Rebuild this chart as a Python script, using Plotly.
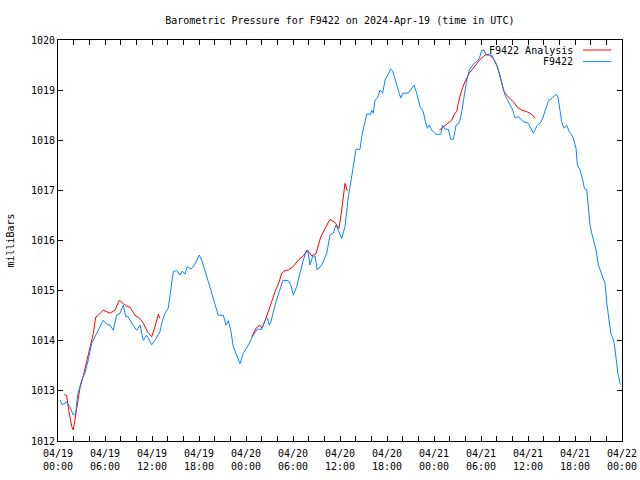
import pandas as pd
import plotly.graph_objects as go

# hours since 2024-04-19 00:00 UTC and pressure (mbar)
station_hours = [0.26, 0.55, 1.11, 1.53, 1.95, 2.26, 2.51, 3.03, 3.45, 3.87, 4.30, 4.72, 5.14, 5.78, 6.22, 6.64,
                 7.06, 7.49, 7.92, 8.34, 8.64, 8.97, 9.41, 10.05, 10.47, 10.89, 11.32, 11.96, 12.38, 13.02, 13.24,
                 13.66, 14.08, 14.39, 14.72, 15.15, 15.57, 15.87, 16.21, 16.51, 16.98, 17.49, 18.04, 18.35, 18.77,
                 19.19, 19.62, 20.04, 20.46, 21.10, 21.45, 21.74, 22.05, 22.38, 22.81, 23.24, 23.66, 24.29, 24.93,
                 25.44, 26.01, 26.43, 26.72, 26.98, 27.19, 27.70, 28.25, 28.69, 29.40, 29.71, 30.04, 30.47, 30.89,
                 31.32, 31.75, 31.95, 32.17, 32.52, 32.81, 33.10, 33.66, 34.30, 34.72, 35.15, 35.49, 35.78, 36.22,
                 36.64, 37.06, 37.49, 37.79, 38.04, 38.55, 38.77, 39.19, 39.41, 39.92, 40.05, 40.25, 40.47, 40.76,
                 41.11, 41.45, 41.75, 42.09, 42.47, 42.73, 43.15, 43.45, 43.75, 44.01, 44.72, 45.03, 45.45, 45.79,
                 46.22, 46.64, 46.85, 47.15, 47.40, 47.71, 48.26, 48.86, 49.11, 49.41, 49.83, 50.13, 50.47, 50.68,
                 50.81, 51.10, 51.32, 51.54, 51.75, 52.18, 52.51, 52.82, 53.02, 53.46, 53.79, 54.10, 54.39, 54.64,
                 55.37, 55.79, 56.09, 56.30, 56.64, 57.07, 57.36, 57.71, 58.05, 58.35, 58.64, 58.98, 59.41, 60.04,
                 60.35, 60.68, 61.19, 61.53, 61.88, 62.17, 62.59, 63.07, 63.58, 63.83, 64.09, 64.30, 64.60, 64.94,
                 65.27, 65.53, 65.79, 66.13, 66.30, 66.64, 66.99, 67.19, 67.50, 67.71, 67.92, 68.14, 68.43, 68.69,
                 68.98, 69.29, 69.55, 69.84, 70.06, 70.26, 70.57, 70.83, 71.00, 71.25, 71.47, 71.76, 71.85]
station_mbar = [1012.82, 1012.72, 1012.78, 1012.68, 1012.52, 1012.55, 1012.92, 1013.22, 1013.36, 1013.62, 1013.95,
                1014.07, 1014.21, 1014.41, 1014.33, 1014.31, 1014.21, 1014.51, 1014.55, 1014.71, 1014.48, 1014.48,
                1014.35, 1014.21, 1014.31, 1014.01, 1014.11, 1013.92, 1014.01, 1014.18, 1014.35, 1014.55, 1014.65,
                1015.01, 1015.38, 1015.40, 1015.31, 1015.39, 1015.33, 1015.48, 1015.43, 1015.53, 1015.71, 1015.61,
                1015.41, 1015.18, 1014.95, 1014.71, 1014.51, 1014.51, 1014.31, 1014.40, 1014.21, 1013.88, 1013.72,
                1013.54, 1013.75, 1013.91, 1014.11, 1014.23, 1014.23, 1014.41, 1014.45, 1014.31, 1014.38, 1014.71,
                1014.98, 1015.20, 1015.20, 1015.12, 1014.91, 1015.08, 1015.35, 1015.61, 1015.81, 1015.75, 1015.51,
                1015.69, 1015.69, 1015.41, 1015.51, 1015.74, 1016.11, 1016.15, 1016.31, 1016.21, 1016.04, 1016.28,
                1016.87, 1017.27, 1017.61, 1017.82, 1017.82, 1018.07, 1018.37, 1018.52, 1018.52, 1018.60, 1018.54,
                1018.80, 1018.84, 1019.00, 1018.94, 1019.20, 1019.30, 1019.42, 1019.38, 1019.14, 1019.01, 1018.84,
                1018.94, 1018.94, 1019.01, 1019.10, 1018.94, 1018.67, 1018.57, 1018.40, 1018.24, 1018.30, 1018.20,
                1018.12, 1018.12, 1018.30, 1018.22, 1018.22, 1018.02, 1018.02, 1018.18, 1018.30, 1018.33, 1018.40,
                1018.57, 1018.80, 1019.20, 1019.40, 1019.47, 1019.52, 1019.57, 1019.63, 1019.80, 1019.80, 1019.70,
                1019.70, 1019.57, 1019.47, 1019.34, 1019.14, 1018.90, 1018.81, 1018.70, 1018.60, 1018.44, 1018.47,
                1018.44, 1018.37, 1018.34, 1018.24, 1018.14, 1018.30, 1018.34, 1018.44, 1018.60, 1018.78, 1018.84,
                1018.92, 1018.86, 1018.54, 1018.37, 1018.24, 1018.30, 1018.17, 1018.12, 1018.04, 1017.84, 1017.51,
                1017.41, 1017.21, 1017.04, 1017.01, 1016.64, 1016.31, 1016.14, 1015.94, 1015.81, 1015.51, 1015.38,
                1015.25, 1015.14, 1014.75, 1014.48, 1014.15, 1014.05, 1013.95, 1013.65, 1013.35, 1013.15, 1013.12]

analysis_hours = [0.80, 1.11, 1.40, 1.75, 1.95, 2.17, 2.46, 2.81, 3.23, 3.66, 4.21, 4.51, 4.81, 5.14, 5.78, 6.64,
                  7.28, 7.83, 8.34, 8.77, 9.19, 9.83, 10.47, 10.89, 11.45, 11.96, 12.38, 12.81, 12.98, 18.0,
                  24.73, 25.28, 25.79, 26.04, 26.43, 26.85, 27.28, 27.70, 28.25, 28.56, 28.98, 29.40, 30.04, 30.68,
                  31.32, 31.83, 32.39, 32.94, 33.54, 34.09, 34.72, 35.36, 35.87, 36.22, 36.43, 36.64, 36.93, 42.0,
                  48.68, 49.62, 50.26, 50.68, 50.90, 51.10, 51.54, 51.96, 52.51, 53.02, 53.87, 54.51, 54.93, 55.57,
                  56.00, 56.34, 56.64, 56.94, 57.49, 58.13, 58.64, 59.20, 59.84, 60.47, 60.90]
analysis_mbar = [1012.93, 1012.90, 1012.58, 1012.29, 1012.22, 1012.42, 1012.68, 1013.06, 1013.30, 1013.60, 1013.96,
                 1014.15, 1014.47, 1014.51, 1014.61, 1014.55, 1014.61, 1014.81, 1014.74, 1014.69, 1014.67, 1014.51,
                 1014.44, 1014.35, 1014.17, 1014.08, 1014.28, 1014.53, 1014.45, None,
                 1014.08, 1014.25, 1014.31, 1014.25, 1014.40, 1014.61, 1014.78, 1014.98, 1015.18, 1015.35, 1015.40,
                 1015.41, 1015.48, 1015.61, 1015.69, 1015.81, 1015.69, 1015.74, 1016.07, 1016.24, 1016.42, 1016.36,
                 1016.24, 1016.61, 1016.90, 1017.14, 1016.99, None,
                 1018.20, 1018.33, 1018.40, 1018.54, 1018.57, 1018.74, 1019.00, 1019.17, 1019.34, 1019.44, 1019.61,
                 1019.70, 1019.72, 1019.63, 1019.50, 1019.34, 1019.17, 1018.97, 1018.86, 1018.77, 1018.66, 1018.60,
                 1018.57, 1018.52, 1018.44]

series_names = ["F9422 Analysis", "F9422"]
series_colors = ["#ff0000", "#0a84ff"]
title_text = "Barometric Pressure for F9422 on 2024-Apr-19 (time in UTC)"
y_label = "milliBars"

base = pd.Timestamp("2024-04-19 00:00")
t_station = base + pd.to_timedelta(station_hours, unit="h")
t_analysis = base + pd.to_timedelta(analysis_hours, unit="h")

FONT = "DejaVu Sans Mono"
FS = 10

fig = go.Figure()
fig.add_trace(go.Scatter(x=t_analysis, y=analysis_mbar, mode="lines", name=series_names[0],
                         line=dict(color=series_colors[0], width=1), connectgaps=False))
fig.add_trace(go.Scatter(x=t_station, y=station_mbar, mode="lines", name=series_names[1],
                         line=dict(color=series_colors[1], width=1)))

# gnuplot-style legend: text on the left, sample line on the right
for i, (nm, col) in enumerate(zip(series_names, series_colors)):
    yy = 0.975 - i * 0.029
    fig.add_annotation(xref="paper", yref="paper", x=0.917, y=yy, text=nm, showarrow=False,
                       xanchor="right", yanchor="middle", font=dict(family=FONT, size=FS, color="black"))
    fig.add_shape(type="line", xref="paper", yref="paper", x0=0.931, x1=0.981, y0=yy, y1=yy,
                  line=dict(color=col, width=1))

fig.add_annotation(xref="paper", yref="paper", x=-0.085, y=0.5, text=y_label, textangle=-90,
                   showarrow=False, xanchor="center", yanchor="middle",
                   font=dict(family=FONT, size=FS, color="black"))

fig.update_layout(
    width=640, height=480,
    margin=dict(l=58, r=18, t=40, b=39, autoexpand=False),
    paper_bgcolor="white", plot_bgcolor="white",
    showlegend=False,
    title=dict(text=title_text, x=0.531, xanchor="center", y=0.958, yanchor="middle",
               font=dict(family=FONT, size=FS, color="black")),
    font=dict(family=FONT, size=FS, color="black"),
)
fig.update_xaxes(
    range=[base, base + pd.Timedelta(hours=72)], automargin=False,
    type="date", dtick=6 * 3600 * 1000, tick0=base, tickformat="%m/%d<br>%H:%M",
    showgrid=False, zeroline=False, showline=True, linecolor="black", linewidth=1,
    mirror="allticks", ticks="inside", ticklen=5, tickcolor="black", ticklabelstandoff=3,
    minor=dict(dtick=2 * 3600 * 1000, ticks="inside", ticklen=5, tickcolor="black", showgrid=False),
    tickfont=dict(family=FONT, size=FS, color="black"),
)
fig.update_yaxes(
    range=[1012, 1020], dtick=1, tickformat="d", automargin=False,
    showgrid=False, zeroline=False, showline=True, linecolor="black", linewidth=1,
    mirror="allticks", ticks="inside", ticklen=5, tickcolor="black",
    tickfont=dict(family=FONT, size=FS, color="black"),
)

fig.write_html("out.html", config={"displayModeBar": False},
               post_script="document.body.style.margin='0';document.body.style.overflow='hidden';")
